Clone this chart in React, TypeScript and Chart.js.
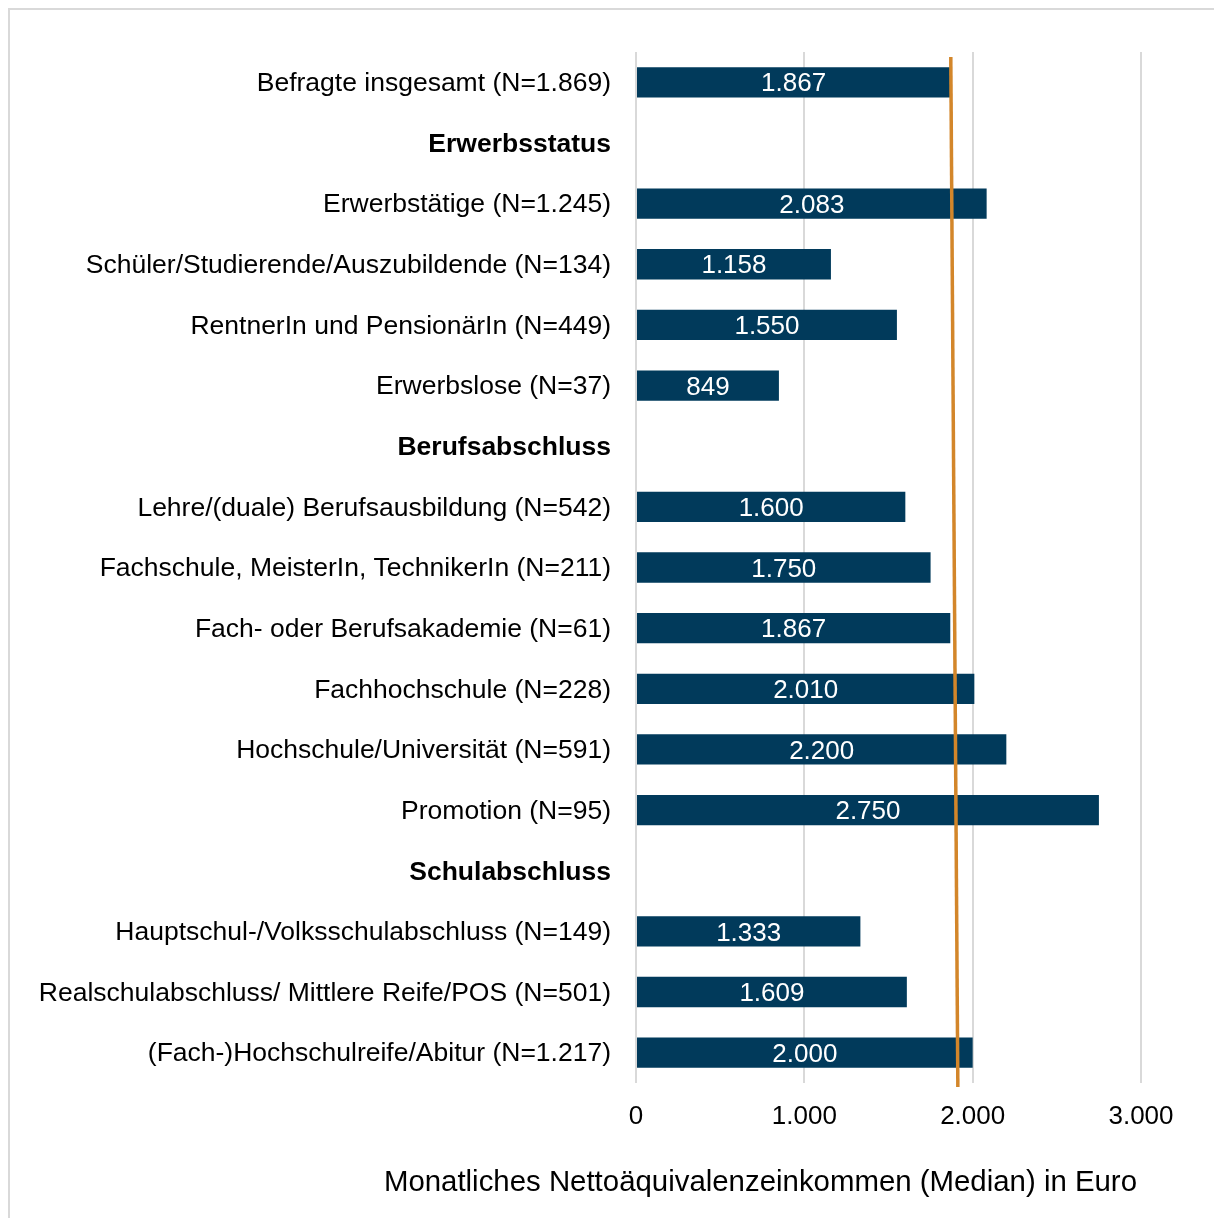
import React, { useEffect, useRef } from "react";
import { Chart, registerables } from "chart.js";

Chart.register(...registerables);

const categories: string[] = [
  "Befragte insgesamt (N=1.869)",
  "Erwerbsstatus",
  "Erwerbstätige (N=1.245)",
  "Schüler/Studierende/Auszubildende (N=134)",
  "RentnerIn und PensionärIn (N=449)",
  "Erwerbslose (N=37)",
  "Berufsabschluss",
  "Lehre/(duale) Berufsausbildung (N=542)",
  "Fachschule, MeisterIn, TechnikerIn (N=211)",
  "Fach- oder Berufsakademie (N=61)",
  "Fachhochschule (N=228)",
  "Hochschule/Universität (N=591)",
  "Promotion (N=95)",
  "Schulabschluss",
  "Hauptschul-/Volksschulabschluss (N=149)",
  "Realschulabschluss/ Mittlere Reife/POS (N=501)",
  "(Fach-)Hochschulreife/Abitur (N=1.217)",
];

const headerRows: boolean[] = [
  false, true, false, false, false, false, true, false, false, false, false, false, false, true, false, false, false,
];

const medianIncome: (number | null)[] = [
  1867, null, 2083, 1158, 1550, 849, null, 1600, 1750, 1867, 2010, 2200, 2750, null, 1333, 1609, 2000,
];

const xTickValues: number[] = [0, 1000, 2000, 3000];
const referenceLine: number[] = [1870, 1912]; // value at top, value at bottom

const axisTitle = "Monatliches Nettoäquivalenzeinkommen (Median) in Euro";

const FONT = "'Liberation Sans', Arial, Helvetica, sans-serif";
const BAR_COLOR = "#013a5b";
const REF_COLOR = "#d3862a";
const GRID_COLOR = "#d9d9d9";

function formatDE(v: number): string {
  const s = Math.round(v).toString();
  return s.replace(/\B(?=(\d{3})+(?!\d))/g, ".");
}

const barLabelPlugin = {
  id: "barLabels",
  afterDatasetsDraw(chart: any) {
    const ctx = chart.ctx;
    const meta = chart.getDatasetMeta(0);
    ctx.save();
    ctx.fillStyle = "#ffffff";
    ctx.font = `26px ${FONT}`;
    ctx.textAlign = "center";
    ctx.textBaseline = "middle";
    meta.data.forEach((el: any, i: number) => {
      const v = medianIncome[i];
      if (v === null || v === undefined) return;
      const props = el.getProps(["x", "y", "base"], true);
      ctx.fillText(formatDE(v), (props.x + props.base) / 2, props.y + 2);
    });
    ctx.restore();
  },
};

const refLinePlugin = {
  id: "refLine",
  afterDatasetsDraw(chart: any) {
    const ctx = chart.ctx;
    const xs = chart.scales.x;
    const area = chart.chartArea;
    ctx.save();
    ctx.strokeStyle = REF_COLOR;
    ctx.lineWidth = 3.5;
    ctx.beginPath();
    ctx.moveTo(xs.getPixelForValue(referenceLine[0]), area.top + 5);
    ctx.lineTo(xs.getPixelForValue(referenceLine[1]), area.bottom + 4);
    ctx.stroke();
    ctx.restore();
  },
};

const axisTitlePlugin = {
  id: "axisTitleText",
  afterDraw(chart: any) {
    const ctx = chart.ctx;
    const area = chart.chartArea;
    ctx.save();
    ctx.fillStyle = "#000000";
    ctx.font = `29.4px ${FONT}`;
    ctx.textAlign = "right";
    ctx.textBaseline = "middle";
    ctx.fillText(axisTitle, area.right - 4, area.bottom + 100);
    ctx.restore();
  },
};

export default function App() {
  const canvasRef = useRef<HTMLCanvasElement | null>(null);

  useEffect(() => {
    if (!canvasRef.current) return;
    const chart = new Chart(canvasRef.current, {
      type: "bar",
      data: {
        labels: categories,
        datasets: [
          {
            data: medianIncome as any,
            backgroundColor: BAR_COLOR,
            borderWidth: 0,
            barPercentage: 1,
            categoryPercentage: 0.5,
          },
        ],
      },
      options: {
        indexAxis: "y",
        responsive: false,
        animation: false,
        layout: { padding: { top: 52, right: 73, bottom: 86, left: 0 } },
        plugins: {
          legend: { display: false },
          tooltip: { enabled: false },
          title: { display: false },
        },
        scales: {
          x: {
            type: "linear",
            min: 0,
            max: 3000,
            afterBuildTicks: (scale: any) => {
              scale.ticks = xTickValues.map((v) => ({ value: v }));
            },
            afterFit: (scale: any) => {
              scale.height = 49;
            },
            ticks: {
              callback: (v: any) => formatDE(Number(v)),
              color: "#000000",
              font: { family: FONT, size: 26 },
              padding: 18,
              maxRotation: 0,
            },
            grid: { color: GRID_COLOR, lineWidth: 2, drawTicks: false },
            border: { display: false },
            title: { display: false },
          },
          y: {
            type: "category",
            grid: { display: false, drawTicks: false },
            border: { display: false },
            afterFit: (scale: any) => {
              scale.width = 636;
            },
            ticks: {
              autoSkip: false,
              color: "#000000",
              padding: 25,
              labelOffset: 1.5,
              font: (ctx: any) => ({
                family: FONT,
                size: 26.5,
                weight: headerRows[ctx.index] ? "bold" : "normal",
              }),
            },
          },
        },
      },
      plugins: [barLabelPlugin, refLinePlugin, axisTitlePlugin],
    } as any);
    return () => chart.destroy();
  }, []);

  return (
    <div
      style={{
        position: "absolute",
        left: 0,
        top: 0,
        width: 1214,
        height: 1218,
        overflow: "hidden",
        background: "#ffffff",
      }}
    >
      <div
        style={{
          position: "absolute",
          left: 8,
          top: 8,
          width: 1400,
          height: 1400,
          border: "2px solid #d9d9d9",
          boxSizing: "border-box",
        }}
      />
      <canvas
        ref={canvasRef}
        width={1214}
        height={1218}
        style={{ position: "absolute", left: 0, top: 0, width: 1214, height: 1218 }}
      />
    </div>
  );
}
